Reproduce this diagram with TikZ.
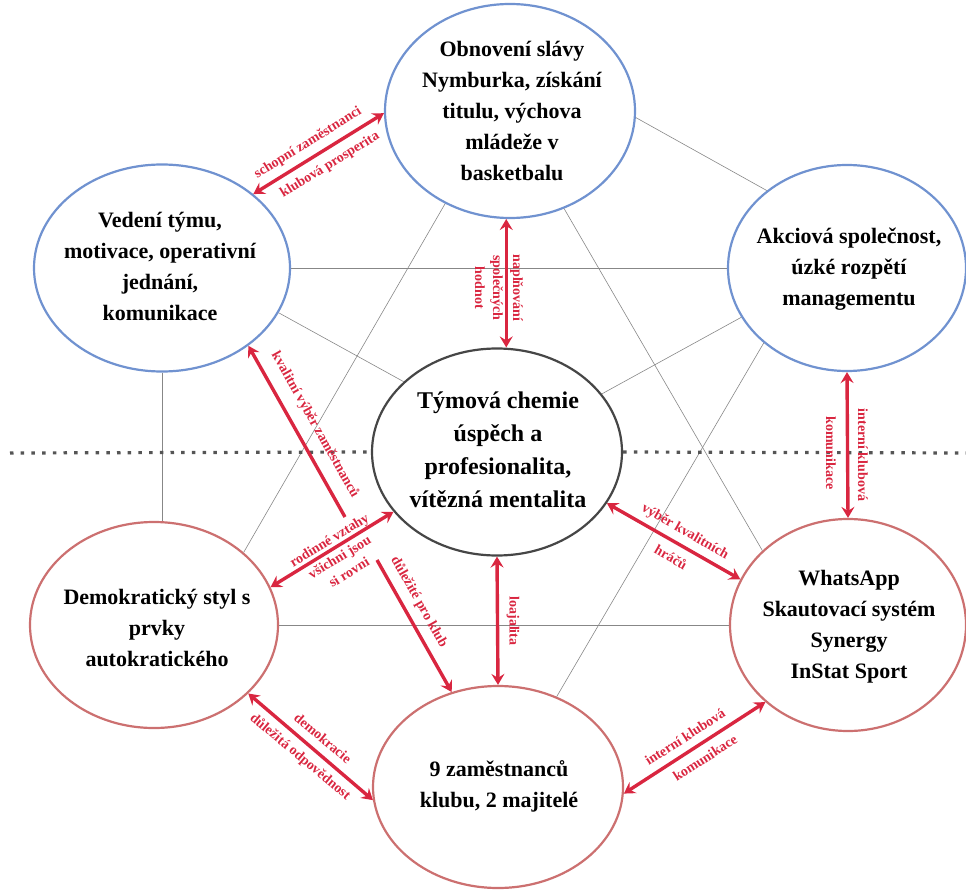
\documentclass[tikz,border=0pt]{standalone}
\usepackage{fontspec}
\setmainfont{Liberation Serif}
\usetikzlibrary{shapes.geometric,arrows.meta}

\definecolor{blueedge}{RGB}{112,146,208}
\definecolor{rededge}{RGB}{204,112,112}
\definecolor{darkedge}{RGB}{70,70,70}
\definecolor{arrowred}{RGB}{217,38,64}
\definecolor{thingray}{RGB}{135,135,135}
\definecolor{dotgray}{RGB}{85,85,85}

\tikzset{
    oval/.style={ellipse, draw, line width=2.2pt, fill=white, inner sep=0pt},
    upperoval/.style={oval, draw=blueedge},
    loweroval/.style={oval, draw=rededge},
    ovaltext/.style={align=center, font=\fontsize{22}{31}\selectfont\bfseries},
    conn/.style={draw=thingray, line width=0.6pt},
    dotline/.style={draw=dotgray, line width=3.2pt, dash pattern=on 3.5pt off 7.2pt},
    redtip/.tip={Stealth[length=11pt,width=13pt,inset=4pt]},
    link/.style={draw=arrowred, line width=3.4pt, redtip-redtip},
    linkto/.style={draw=arrowred, line width=3.4pt, -redtip},
    lbl/.style={text=arrowred, font=\fontsize{14}{18}\selectfont\bfseries, align=center, inner sep=0pt}
}

\begin{document}
\begin{tikzpicture}[x=1pt, y=-1pt]
    \useasboundingbox (0,0) rectangle (966,893);

    % ovals
    \node[upperoval, minimum width=250pt, minimum height=214pt] (top) at (510,111) {};
    \node[upperoval, minimum width=256pt, minimum height=207pt] (lup) at (162,268) {};
    \node[upperoval, minimum width=238pt, minimum height=206pt] (rup) at (847,268) {};
    \node[oval, draw=darkedge, minimum width=250pt, minimum height=207pt] (cen) at (497,452) {};
    \node[loweroval, minimum width=248pt, minimum height=206pt] (lld) at (154,625) {};
    \node[loweroval, minimum width=250pt, minimum height=202pt] (bot) at (498,787) {};
    \node[loweroval, minimum width=236pt, minimum height=212pt] (rlo) at (848,625) {};

    % thin links
    \draw[conn] (top.-3) -- (rup.136);
    \draw[conn] (top.235) -- (lld.39);
    \draw[conn] (top.-61) -- (rlo.139);
    \draw[conn] (rup.222) -- (bot.57);
    \draw[conn] (rup.205) -- (cen.29);
    \draw[conn] (lup.-21) -- (cen.143);
    \draw[conn] (lup.south) -- (lup.south |- lld.north);
    \draw[conn] (lup.east) -- (rup.west);
    \draw[conn] (lld.east) -- (rlo.west);

    % dotted divider
    \coordinate (dotL) at (10,453);
    \coordinate (dotR) at (966,453);
    \draw[dotline] (dotL) -- (cen.west);
    \draw[dotline] (cen.east) -- (dotR);

    % oval texts
    \node[ovaltext] (top-t) at (512,111) {Obnovení slávy\\Nymburka, získání\\titulu, výchova\\mládeže v\\basketbalu};
    \node[ovaltext] (lup-t) at (160,266) {Vedení týmu,\\motivace, operativní\\jednání,\\komunikace};
    \node[ovaltext] (rup-t) at (849,269) {Akciová společnost,\\úzké rozpětí\\managementu};
    \node[ovaltext, font=\fontsize{24}{33}\selectfont\bfseries] (cen-t) at (498,450) {Týmová chemie\\úspěch a\\profesionalita,\\vítězná mentalita};
    \node[ovaltext] (lld-t) at (157,628) {Demokratický styl s\\prvky\\autokratického};
    \node[ovaltext] (bot-t) at (499,786) {9 zaměstnanců\\klubu, 2 majitelé};
    \node[ovaltext] (rlo-t) at (849,627) {WhatsApp\\Skautovací systém\\Synergy\\InStat Sport};

    % red arrows
    \coordinate (kv-tail) at (345,517);
    \coordinate (dp-tail) at (377,560);
    \draw[link] (lup.39) -- (top.181);
    \draw[link] (top.-92) -- (top.-92 |- cen.north);
    \draw[link] (cen.-25) -- (rlo.157);
    \draw[link] (rup.south) -- (rlo.north);
    \draw[linkto] (kv-tail) -- (lup.-42);
    \draw[link] (lld.18) -- (cen.210);
    \draw[linkto] (dp-tail) -- (bot.116);
    \draw[link] (cen.south) -- (bot.north);
    \draw[link] (lld.-36) -- (bot.186);
    \draw[link] (bot.-3) -- (rlo.223);

    % arrow labels
    \node[lbl, rotate=31.7] (l-schop) at (308,143) {schopní zaměstnanci};
    \node[lbl, rotate=31.7] (l-prosp) at (330,165) {klubová prosperita};
    \node[lbl, rotate=-90] (l-hodn) at (499,288) {naplňování\\[2pt]společných\\hodnot};
    \node[lbl, rotate=-29.6] (l-vyber) at (685,532) {výběr kvalitních};
    \node[lbl, rotate=-29.6] (l-hracu) at (671,557) {hráčů};
    \node[lbl, rotate=-90] (l-intr) at (863,455) {interní klubová};
    \node[lbl, rotate=-90] (l-komr) at (831,453) {komunikace};
    \node[lbl, rotate=-60.6] (l-kval) at (315,425) {kvalitní výběr zaměstnanců};
    \node[lbl, rotate=31.4] (l-rod) at (339,556) {rodinné vztahy\\[2pt]všichni jsou\\si rovni};
    \node[lbl, rotate=-60.5] (l-dul) at (419,602) {důležité pro klub};
    \node[lbl, rotate=-90] (l-loaj) at (513,621) {loajalita};
    \node[lbl, rotate=-40] (l-demo) at (323,738) {demokracie};
    \node[lbl, rotate=-40] (l-odp) at (300,757) {důležitá odpovědnost};
    \node[lbl, rotate=32.7] (l-intb) at (685,737) {interní klubová};
    \node[lbl, rotate=32.7] (l-komb) at (705,758) {komunikace};
\end{tikzpicture}
\end{document}
